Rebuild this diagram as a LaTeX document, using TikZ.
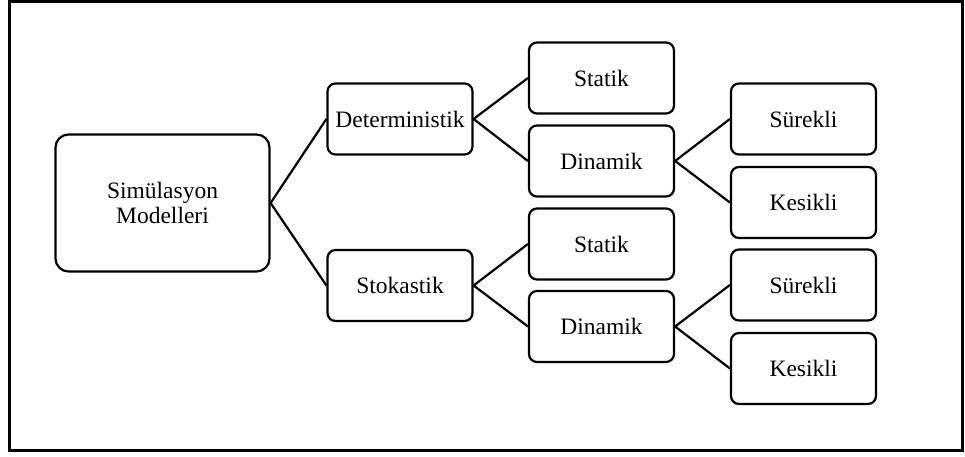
\documentclass[tikz,border=0pt]{standalone}
\usepackage{fontspec}
\setmainfont{Liberation Serif}
\begin{document}
\begin{tikzpicture}[x=1pt,y=-1pt,
  box/.style={draw=black,line width=2.2pt,rounded corners=8pt,inner sep=0pt,
    minimum width=145pt,minimum height=71pt,align=center,
    font=\fontsize{23.5}{25}\selectfont},
  rootbox/.style={box,rounded corners=13pt,minimum width=214pt,minimum height=137pt},
  link/.style={line width=2.2pt}]
  \useasboundingbox (0,0) rectangle (965,457);
  % outer frame
  \draw[line width=2.6pt] (9.5,1.5) rectangle (962.5,450.5);

  % tree of nodes
  \node[rootbox] (sim) at (162.5,203) {Simülasyon\\Modelleri};
  \node[box] (det) at (400,119) {Deterministik};
  \node[box] (sto) at (400,285.5) {Stokastik};
  \node[box] (st1) at (601.5,78) {Statik};
  \node[box] (dy1) at (601.5,161) {Dinamik};
  \node[box] (st2) at (601.5,244) {Statik};
  \node[box] (dy2) at (601.5,326.5) {Dinamik};
  \node[box] (su1) at (803.5,119) {Sürekli};
  \node[box] (ke1) at (803.5,202.5) {Kesikli};
  \node[box] (su2) at (803.5,285) {Sürekli};
  \node[box] (ke2) at (803.5,368.5) {Kesikli};

  % branches
  \draw[link] (det.west) -- (sim.east) -- (sto.west);
  \draw[link] (st1.west) -- (det.east) -- (dy1.west);
  \draw[link] (st2.west) -- (sto.east) -- (dy2.west);
  \draw[link] (su1.west) -- (dy1.east) -- (ke1.west);
  \draw[link] (su2.west) -- (dy2.east) -- (ke2.west);
\end{tikzpicture}
\end{document}
